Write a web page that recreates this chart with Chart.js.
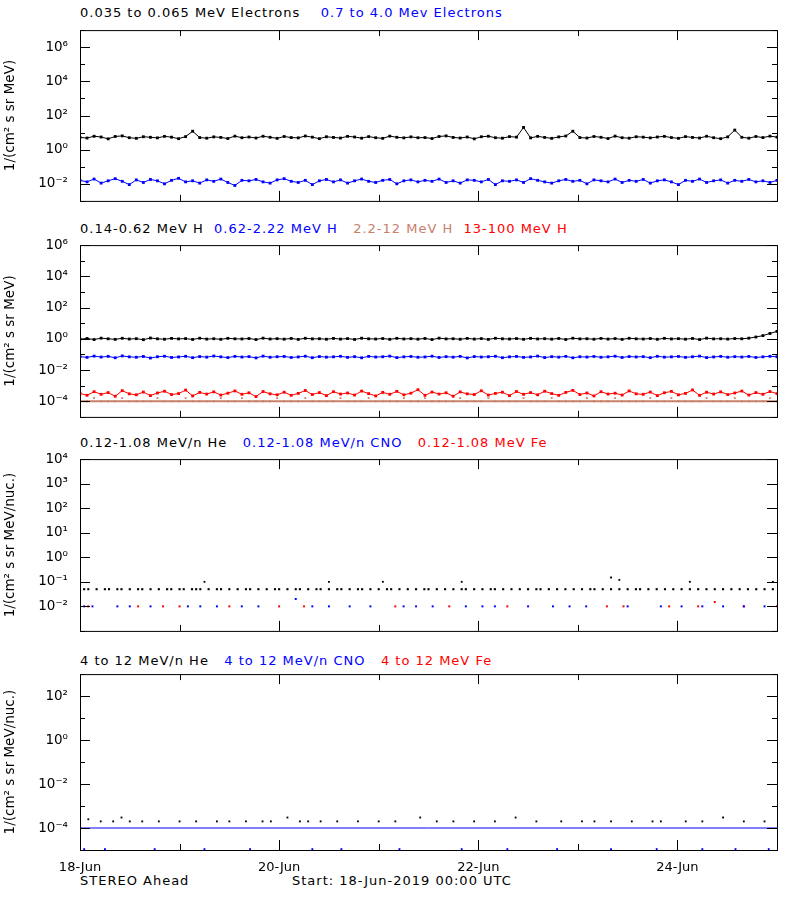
<!DOCTYPE html>
<html><head><meta charset="utf-8">
<script src="https://cdn.jsdelivr.net/npm/chart.js@4/dist/chart.umd.min.js"></script>
<style>
body{margin:0;background:#fff;width:800px;height:900px;position:relative;overflow:hidden;font-family:"DejaVu Sans",sans-serif;}
canvas{position:absolute;left:0;}
.t{position:absolute;font-size:13px;letter-spacing:1px;white-space:pre;line-height:14px;}
</style></head><body>
<div class="t" style="left:80px;top:6px"><span style="color:#000">0.035 to 0.065 MeV Electrons</span>    <span style="color:#0000ff">0.7 to 4.0 Mev Electrons</span></div>
<div class="t" style="left:80px;top:222px"><span>0.14-0.62 MeV H</span>  <span style="color:#0000ff">0.62-2.22 MeV H</span>   <span style="color:#c8806a">2.2-12 MeV H</span>  <span style="color:#ff0000">13-100 MeV H</span></div>
<div class="t" style="left:80px;top:436px"><span>0.12-1.08 MeV/n He</span>   <span style="color:#0000ff">0.12-1.08 MeV/n CNO</span>   <span style="color:#ff0000">0.12-1.08 MeV Fe</span></div>
<div class="t" style="left:80px;top:654px"><span>4 to 12 MeV/n He</span>   <span style="color:#0000ff">4 to 12 MeV/n CNO</span>   <span style="color:#ff0000">4 to 12 MeV Fe</span></div>
<div class="t" style="left:80px;top:874px">STEREO Ahead</div>
<div class="t" style="left:292px;top:874px">Start: 18-Jun-2019 00:00 UTC</div>
<canvas id="c1"></canvas><canvas id="c2"></canvas><canvas id="c3"></canvas><canvas id="c4"></canvas>
<script>
const dayLabels = {0:'18-Jun',48:'20-Jun',96:'22-Jun',144:'24-Jun'};
// Panel 1
const elecLow = [5.2,4.8,6.1,5.5,4.3,5.9,6.4,5.0,4.6,5.7,5.3,4.9,6.0,5.4,4.4,5.8,12,5.1,4.7,5.6,5.2,4.5,6.2,5.0,5.5,4.8,6.1,5.3,4.6,5.9,5.1,4.9,6.3,5.4,4.4,5.7,5.2,4.8,6.0,5.5,4.7,5.8,5.0,4.6,6.2,5.3,4.9,5.6,5.0,5.1,4.5,5.9,6.4,5.2,4.8,5.5,4.3,5.7,6.1,5.0,4.7,5.8,5.4,20,4.9,6.0,5.2,4.6,5.6,6.3,12,5.1,4.8,5.9,5.3,4.5,6.2,5.0,4.7,5.7,5.4,4.9,5.5,6.0,5.1,4.6,5.8,5.2,4.8,6.1,5.0,4.4,5.6,14,5.3,4.7,5.9,5.1,6.2,5.4];
const elecHigh = [0.016,0.013,0.019,0.011,0.015,0.020,0.014,0.009,0.017,0.012,0.018,0.015,0.010,0.016,0.021,0.013,0.015,0.011,0.017,0.014,0.019,0.012,0.008,0.016,0.015,0.018,0.013,0.011,0.017,0.020,0.014,0.012,0.016,0.009,0.015,0.018,0.013,0.017,0.011,0.015,0.019,0.014,0.012,0.016,0.018,0.010,0.015,0.017,0.013,0.016,0.014,0.019,0.012,0.015,0.011,0.017,0.016,0.013,0.018,0.009,0.015,0.014,0.017,0.012,0.020,0.016,0.013,0.011,0.015,0.018,0.014,0.016,0.010,0.017,0.015,0.013,0.019,0.012,0.016,0.014,0.018,0.011,0.015,0.017,0.013,0.009,0.016,0.014,0.019,0.012,0.015,0.017,0.011,0.016,0.014,0.018,0.013,0.015,0.012,0.016];
// Panel 2
const hLow = [0.95,1.05,0.9,1.1,1.0,0.92,1.08,0.97,1.02,0.88,1.12,1.0,0.94,1.06,0.99,1.03,0.91,1.09,0.96,1.01,0.93,1.07,1.0,0.98,1.04,0.9,1.1,0.97,1.02,0.95,1.05,0.92,1.08,0.99,1.01,0.94,1.06,0.96,1.03,0.91,1.09,1.0,0.97,1.04,0.93,1.07,0.98,1.02,0.95,1.05,0.9,1.1,0.99,1.01,0.94,1.06,0.96,1.03,0.92,1.08,1.0,0.97,1.04,0.93,1.07,0.98,1.02,0.95,1.05,0.91,1.09,0.99,1.01,0.94,1.06,0.96,1.03,0.92,1.08,1.0,0.97,1.04,0.93,1.07,0.98,1.02,0.95,1.05,0.9,1.1,0.99,1.01,0.96,1.04,1.0,1.1,1.3,1.6,2.2,3.0];
const hMid = [0.072,0.065,0.078,0.068,0.075,0.061,0.08,0.07,0.066,0.074,0.059,0.071,0.077,0.064,0.069,0.076,0.062,0.073,0.067,0.079,0.07,0.063,0.075,0.068,0.072,0.06,0.078,0.066,0.071,0.074,0.064,0.069,0.077,0.062,0.073,0.067,0.07,0.076,0.065,0.072,0.061,0.075,0.068,0.071,0.078,0.063,0.07,0.074,0.066,0.069,0.077,0.064,0.072,0.067,0.075,0.06,0.073,0.068,0.071,0.076,0.062,0.07,0.074,0.065,0.069,0.078,0.063,0.072,0.067,0.075,0.061,0.071,0.068,0.074,0.066,0.07,0.077,0.064,0.073,0.069,0.072,0.062,0.076,0.067,0.07,0.074,0.065,0.071,0.078,0.063,0.069,0.075,0.066,0.072,0.068,0.074,0.064,0.07,0.076,0.071];
const hHigh = [3.2e-4,2.4e-4,4.1e-4,2.8e-4,3.6e-4,2.1e-4,4.8e-4,3.0e-4,2.6e-4,3.9e-4,2.3e-4,3.4e-4,4.4e-4,2.7e-4,3.1e-4,5.2e-4,2.2e-4,3.7e-4,2.9e-4,4.0e-4,2.5e-4,3.3e-4,4.6e-4,2.8e-4,3.5e-4,2.0e-4,4.2e-4,3.0e-4,2.6e-4,3.8e-4,2.4e-4,3.2e-4,4.9e-4,2.7e-4,3.6e-4,2.3e-4,4.1e-4,2.9e-4,3.4e-4,2.5e-4,4.5e-4,3.1e-4,2.2e-4,3.7e-4,2.8e-4,4.3e-4,2.6e-4,3.3e-4,5.5e-4,2.4e-4,3.9e-4,2.9e-4,3.5e-4,2.1e-4,4.0e-4,3.0e-4,2.7e-4,4.7e-4,2.5e-4,3.2e-4,3.8e-4,2.3e-4,4.2e-4,2.8e-4,3.6e-4,2.6e-4,4.4e-4,3.1e-4,2.4e-4,3.7e-4,5.0e-4,2.7e-4,3.4e-4,2.2e-4,4.1e-4,2.9e-4,3.3e-4,2.5e-4,4.6e-4,3.0e-4,2.8e-4,3.9e-4,2.3e-4,3.5e-4,4.3e-4,2.6e-4,3.2e-4,5.3e-4,2.4e-4,3.8e-4,2.9e-4,4.0e-4,2.7e-4,3.4e-4,4.5e-4,2.5e-4,3.6e-4,2.8e-4,4.2e-4,3.1e-4];
const hVHigh = [1.0e-4,1.0e-4,1.6e-4,1.0e-4,1.0e-4,1.0e-4,1.6e-4,1.0e-4,1.0e-4,1.0e-4,1.0e-4,1.6e-4,1.0e-4,1.0e-4,1.0e-4,1.6e-4,1.0e-4,1.0e-4,1.0e-4,1.0e-4,1.6e-4,1.0e-4,1.0e-4,1.6e-4,1.0e-4,1.0e-4,1.0e-4,1.0e-4,1.6e-4,1.0e-4,1.0e-4,1.0e-4,1.6e-4,1.0e-4,1.0e-4,1.0e-4,1.0e-4,1.6e-4,1.0e-4,1.0e-4,1.0e-4,1.6e-4,1.0e-4,1.0e-4,1.0e-4,1.0e-4,1.6e-4,1.0e-4,1.0e-4,1.6e-4,1.0e-4,1.0e-4,1.0e-4,1.0e-4,1.6e-4,1.0e-4,1.0e-4,1.0e-4,1.6e-4,1.0e-4,1.0e-4,1.0e-4,1.0e-4,1.6e-4,1.0e-4,1.0e-4,1.0e-4,1.6e-4,1.0e-4,1.0e-4,1.0e-4,1.0e-4,1.6e-4,1.0e-4,1.0e-4,1.0e-4,1.6e-4,1.0e-4,1.0e-4,1.0e-4,1.0e-4,1.6e-4,1.0e-4,1.0e-4,1.6e-4,1.0e-4,1.0e-4,1.0e-4,1.0e-4,1.6e-4,1.0e-4,1.0e-4,1.0e-4,1.6e-4,1.0e-4,1.0e-4,1.0e-4,1.0e-4,1.6e-4,1.0e-4];
const hVHighBase = [1.0e-4,1.0e-4];
// Panel 3 (hours, values)
const heLowT = [1,2,4,6,7,9,10,12,14,15,17,19,21,22,24,25,27,28,29,31,33,34,36,38,40,41,43,45,47,48,50,52,53,55,57,58,60,62,63,65,67,68,70,72,74,75,77,79,81,83,84,86,88,90,92,93,95,97,99,100,102,104,106,108,110,111,113,115,117,119,121,123,124,126,128,130,132,134,135,137,139,141,143,145,147,149,151,153,155,157,159,161,163,165,167];
const heLowV = heLowT.map(()=>0.05);
const heLowOutT = [30,60,73,92,128,130,147,167];
const heLowOutV = [0.1,0.1,0.1,0.1,0.15,0.12,0.1,0.1];
const cnoLowT = [1,3,9,12,17,26,29,33,39,43,52,56,60,65,70,78,81,85,93,97,100,108,114,118,122,132,140,145,150,155,160,165];
const cnoLowV = [0.01,0.01,0.01,0.01,0.01,0.01,0.01,0.01,0.01,0.01,0.02,0.01,0.01,0.01,0.01,0.01,0.01,0.01,0.01,0.01,0.01,0.01,0.01,0.01,0.01,0.01,0.01,0.01,0.01,0.01,0.01,0.01];
const feLowT = [2,14,20,24,36,48,54,76,89,103,127,131,142,149,153,160,168];
const feLowV = [0.01,0.01,0.01,0.01,0.01,0.01,0.01,0.01,0.01,0.01,0.01,0.01,0.01,0.01,0.015,0.01,0.01];
// Panel 4
const heHighT = [2,5,8,10,12,15,19,24,28,33,36,40,44,46,50,53,55,58,62,67,72,76,82,86,90,95,100,105,110,116,121,124,128,133,138,140,146,150,155,160,165];
const heHighV = [2.5e-4,2e-4,2e-4,3e-4,2e-4,2e-4,2e-4,2e-4,2e-4,2e-4,2e-4,2e-4,2e-4,2e-4,3e-4,2e-4,2e-4,2e-4,2e-4,2e-4,2e-4,2e-4,3e-4,2e-4,2e-4,2e-4,2e-4,3e-4,2e-4,2e-4,2e-4,2e-4,2e-4,2e-4,2e-4,2e-4,2e-4,2e-4,3e-4,2e-4,2e-4];
const cnoHighT = [0,168];
const cnoHighV = [1e-4,1e-4];
const cnoHighLowT = [1,6,18,30,41,56,63,77,92,103,115,128,139,150,158,166];
const cnoHighLowV = cnoHighLowT.map(()=>1.1e-5);

const idx = a => a.map((v,i)=>({x:i*168/(a.length-1), y:v}));
const pair = (t,v) => t.map((x,i)=>({x, y:v[i]}));
const sup = {'-':'⁻','0':'⁰','1':'¹','2':'²','3':'³','4':'⁴','5':'⁵','6':'⁶','7':'⁷','8':'⁸','9':'⁹'};
const pow = e => '10' + String(e).split('').map(c=>sup[c]).join('');

const frame = {id:'frame', afterDraw(ch){
  const c=ch.ctx, a=ch.chartArea; c.save(); c.strokeStyle='#000'; c.lineWidth=1;
  c.strokeRect(a.left+0.5,a.top+0.5,a.right-a.left,a.bottom-a.top);
  c.beginPath();
  ch.scales.y.ticks.forEach(t=>{const y=Math.round(ch.scales.y.getPixelForValue(t.value))+0.5; const L=t.label?10:5;
    c.moveTo(a.left,y);c.lineTo(a.left+L,y);c.moveTo(a.right,y);c.lineTo(a.right-L,y);});
  for(let h=24;h<168;h+=24){const x=Math.round(ch.scales.x.getPixelForValue(h))+0.5; const L=(h%48==0)?10:6;
    c.moveTo(x,a.bottom);c.lineTo(x,a.bottom-L);c.moveTo(x,a.top);c.lineTo(x,a.top+L);}
  c.stroke(); c.restore();}};

function ds(data,color,r,line,bw){return {data, backgroundColor:color, borderColor:color, pointStyle:'rect', pointRadius:r===undefined?1.6:r, pointBorderWidth:0, showLine:!!line, borderWidth:bw||1};}

function make(id, top, h, minE, maxE, labelEvery, title, datasets, showX){
  const cv=document.getElementById(id); const xh=showX?24:0;
  cv.style.top=(top-10)+'px'; cv.width=800; cv.height=h+20+xh; cv.style.width='800px'; cv.style.height=(h+20+xh)+'px';
  new Chart(cv,{type:'scatter',data:{datasets},plugins:[frame],
   options:{responsive:false,animation:false,events:[],layout:{padding:{top:10,bottom:10,right:23,left:0}},
    plugins:{legend:{display:false},tooltip:{enabled:false}},
    scales:{
     x:{type:'linear',min:0,max:168,grid:{display:false},border:{display:false},
       afterBuildTicks(s){s.ticks=[0,48,96,144].map(v=>({value:v}));},
       afterFit(s){s.height=xh;},
       ticks:{display:showX,maxRotation:0,autoSkip:false,color:'#000',font:{family:'DejaVu Sans',size:13},padding:2,callback:v=>dayLabels[v]||''}},
     y:{type:'logarithmic',min:Math.pow(10,minE),max:Math.pow(10,maxE),grid:{display:false},border:{display:false},
       afterBuildTicks(s){const t=[];for(let e=minE;e<=maxE;e++)t.push({value:Math.pow(10,e)});s.ticks=t;},
       afterFit(s){s.width=80;},
       ticks:{autoSkip:false,color:'#000',font:{family:'DejaVu Sans',size:13.5},padding:4,
         callback(v){const e=Math.round(Math.log10(v)); if(e==minE||e==maxE&&labelEvery==2&&e%2) return ''; return (e%labelEvery==0)?pow(e):'';}},
       title:{display:true,text:title,color:'#000',font:{family:'DejaVu Sans',size:13.5},padding:2}}}}});
}
make('c1',28,175,-3,7,2,'1/(cm² s sr MeV)',[ds(idx(elecLow),'#000',2,true,1),ds(idx(elecHigh),'#0000ff',2,true,1)],false);
make('c2',243,176,-5,6,2,'1/(cm² s sr MeV)',[ds(idx(hLow),'#000',2,true,1),ds(idx(hMid),'#0000ff',2,true,1),ds(pair([0,168],hVHighBase),'#c8806a',0,true,2),ds(idx(hVHigh),'#c8806a',1.3),ds(idx(hHigh),'#ff0000',2,true,1)],false);
make('c3',457,176,-3,4,1,'1/(cm² s sr MeV/nuc.)',[ds(pair(heLowT,heLowV),'#000',1.5),ds(pair(heLowOutT,heLowOutV),'#000',1.3),ds(pair(cnoLowT,cnoLowV),'#0000ff',1.4),ds(pair(feLowT,feLowV),'#ff0000',1.4)],false);
make('c4',672,178,-5,3,2,'1/(cm² s sr MeV/nuc.)',[ds(pair(heHighT,heHighV),'#000',1.3),ds(pair(cnoHighT,cnoHighV),'#0000ff',0,true),ds(pair(cnoHighLowT,cnoHighLowV),'#0000ff',1.3)],true);
</script></body></html>
